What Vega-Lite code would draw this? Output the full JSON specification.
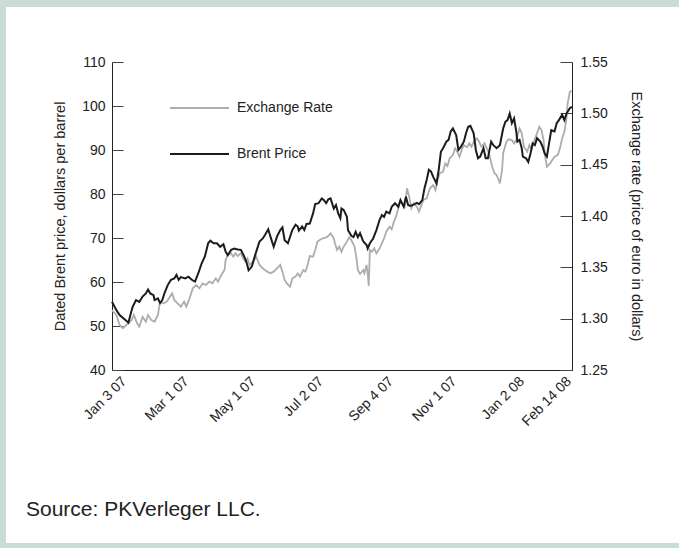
{
  "$schema": "https://vega.github.io/schema/vega-lite/v6.json",
  "width": 673,
  "height": 536,
  "autosize": {"type": "none"},
  "padding": {"left": 6, "top": 7, "right": 0, "bottom": 5},
  "background": "#c9ddd5",
  "title": {"text": "Source: PKVerleger LLC.", "orient": "bottom", "anchor": "start", "frame": "group", "offset": 0, "dx": 20, "dy": -27, "baseline": "alphabetic", "fontSize": 21, "fontWeight": "normal", "font": "Liberation Sans", "color": "#222222"},
  "config": {
    "font": "Liberation Sans",
    "view": {"stroke": null, "fill": "white"},
    "axis": {"grid": false, "domainColor": "#222222", "tickColor": "#444444", "labelColor": "#222222", "titleColor": "#222222", "labelFontSize": 14, "titleFontSize": 14.5, "titleFontWeight": "normal", "labelFont": "Liberation Sans", "titleFont": "Liberation Sans"}
  },
  "datasets": {
    "brent": [
      {"date":"2006-12-23","price":55.5},{"date":"2006-12-27","price":53.6},{"date":"2006-12-30","price":52.5},{"date":"2007-01-04","price":51.4},{"date":"2007-01-07","price":50.75},{"date":"2007-01-10","price":53.6},{"date":"2007-01-11","price":54.4},{"date":"2007-01-14","price":55.9},{"date":"2007-01-17","price":55.5},{"date":"2007-01-20","price":56.7},{"date":"2007-01-23","price":57.4},{"date":"2007-01-25","price":58.3},{"date":"2007-01-27","price":57.4},{"date":"2007-01-30","price":57.0},{"date":"2007-01-31","price":55.9},{"date":"2007-02-03","price":56.3},{"date":"2007-02-05","price":55.2},{"date":"2007-02-07","price":55.9},{"date":"2007-02-09","price":57.4},{"date":"2007-02-12","price":59.3},{"date":"2007-02-15","price":60.5},{"date":"2007-02-18","price":60.8},{"date":"2007-02-20","price":61.6},{"date":"2007-02-22","price":60.5},{"date":"2007-02-24","price":61.1},{"date":"2007-02-28","price":60.8},{"date":"2007-03-03","price":61.2},{"date":"2007-03-06","price":60.5},{"date":"2007-03-09","price":60.1},{"date":"2007-03-12","price":62.0},{"date":"2007-03-15","price":64.2},{"date":"2007-03-18","price":65.8},{"date":"2007-03-21","price":68.8},{"date":"2007-03-23","price":69.4},{"date":"2007-03-26","price":68.8},{"date":"2007-03-29","price":68.8},{"date":"2007-04-01","price":68.0},{"date":"2007-04-04","price":68.6},{"date":"2007-04-06","price":66.9},{"date":"2007-04-08","price":66.1},{"date":"2007-04-11","price":67.3},{"date":"2007-04-14","price":67.6},{"date":"2007-04-17","price":67.4},{"date":"2007-04-20","price":67.3},{"date":"2007-04-23","price":65.8},{"date":"2007-04-25","price":64.6},{"date":"2007-04-27","price":62.7},{"date":"2007-04-30","price":63.5},{"date":"2007-05-03","price":66.1},{"date":"2007-05-07","price":69.2},{"date":"2007-05-10","price":69.9},{"date":"2007-05-12","price":70.7},{"date":"2007-05-15","price":72.0},{"date":"2007-05-17","price":70.3},{"date":"2007-05-20","price":68.0},{"date":"2007-05-23","price":70.3},{"date":"2007-05-26","price":71.8},{"date":"2007-05-28","price":72.4},{"date":"2007-05-30","price":69.5},{"date":"2007-06-02","price":68.8},{"date":"2007-06-06","price":71.8},{"date":"2007-06-09","price":73.0},{"date":"2007-06-11","price":72.6},{"date":"2007-06-12","price":71.7},{"date":"2007-06-15","price":72.6},{"date":"2007-06-17","price":71.8},{"date":"2007-06-19","price":73.2},{"date":"2007-06-22","price":73.3},{"date":"2007-06-25","price":75.6},{"date":"2007-06-27","price":77.7},{"date":"2007-06-30","price":77.9},{"date":"2007-07-03","price":79.0},{"date":"2007-07-05","price":78.6},{"date":"2007-07-07","price":77.9},{"date":"2007-07-09","price":78.8},{"date":"2007-07-11","price":79.0},{"date":"2007-07-14","price":76.7},{"date":"2007-07-16","price":77.5},{"date":"2007-07-18","price":75.6},{"date":"2007-07-20","price":74.5},{"date":"2007-07-21","price":76.7},{"date":"2007-07-23","price":76.4},{"date":"2007-07-26","price":74.8},{"date":"2007-07-27","price":71.8},{"date":"2007-07-30","price":70.5},{"date":"2007-08-01","price":70.2},{"date":"2007-08-03","price":71.4},{"date":"2007-08-05","price":70.2},{"date":"2007-08-07","price":71.1},{"date":"2007-08-10","price":69.2},{"date":"2007-08-13","price":68.4},{"date":"2007-08-14","price":67.6},{"date":"2007-08-16","price":68.8},{"date":"2007-08-19","price":69.9},{"date":"2007-08-22","price":71.8},{"date":"2007-08-25","price":74.2},{"date":"2007-08-27","price":75.2},{"date":"2007-08-29","price":74.8},{"date":"2007-08-31","price":76.0},{"date":"2007-09-03","price":75.6},{"date":"2007-09-05","price":77.1},{"date":"2007-09-08","price":77.9},{"date":"2007-09-11","price":77.1},{"date":"2007-09-13","price":78.6},{"date":"2007-09-16","price":77.1},{"date":"2007-09-18","price":79.4},{"date":"2007-09-20","price":77.5},{"date":"2007-09-22","price":77.3},{"date":"2007-09-25","price":77.6},{"date":"2007-09-28","price":78.0},{"date":"2007-09-30","price":77.7},{"date":"2007-10-03","price":78.6},{"date":"2007-10-05","price":81.3},{"date":"2007-10-07","price":83.2},{"date":"2007-10-09","price":85.5},{"date":"2007-10-11","price":85.1},{"date":"2007-10-13","price":83.9},{"date":"2007-10-16","price":82.4},{"date":"2007-10-18","price":85.5},{"date":"2007-10-20","price":89.6},{"date":"2007-10-22","price":90.4},{"date":"2007-10-25","price":91.9},{"date":"2007-10-27","price":92.3},{"date":"2007-10-29","price":94.2},{"date":"2007-10-31","price":94.9},{"date":"2007-11-03","price":93.4},{"date":"2007-11-05","price":90.0},{"date":"2007-11-07","price":90.6},{"date":"2007-11-10","price":91.9},{"date":"2007-11-12","price":93.8},{"date":"2007-11-14","price":95.3},{"date":"2007-11-16","price":95.5},{"date":"2007-11-19","price":93.8},{"date":"2007-11-21","price":90.0},{"date":"2007-11-23","price":88.1},{"date":"2007-11-25","price":88.5},{"date":"2007-11-28","price":90.4},{"date":"2007-11-30","price":88.1},{"date":"2007-12-02","price":88.1},{"date":"2007-12-05","price":91.9},{"date":"2007-12-07","price":91.1},{"date":"2007-12-10","price":90.4},{"date":"2007-12-13","price":91.1},{"date":"2007-12-16","price":94.9},{"date":"2007-12-18","price":96.4},{"date":"2007-12-20","price":96.8},{"date":"2007-12-22","price":98.3},{"date":"2007-12-24","price":96.1},{"date":"2007-12-26","price":97.2},{"date":"2007-12-28","price":94.2},{"date":"2007-12-29","price":91.9},{"date":"2007-12-31","price":92.3},{"date":"2008-01-02","price":90.4},{"date":"2008-01-03","price":88.5},{"date":"2008-01-06","price":88.1},{"date":"2008-01-08","price":87.3},{"date":"2008-01-10","price":89.2},{"date":"2008-01-12","price":91.5},{"date":"2008-01-14","price":91.1},{"date":"2008-01-16","price":92.7},{"date":"2008-01-19","price":91.9},{"date":"2008-01-21","price":90.8},{"date":"2008-01-23","price":89.2},{"date":"2008-01-25","price":88.5},{"date":"2008-01-27","price":91.5},{"date":"2008-01-29","price":94.5},{"date":"2008-02-01","price":94.2},{"date":"2008-02-03","price":96.1},{"date":"2008-02-05","price":96.8},{"date":"2008-02-08","price":98.0},{"date":"2008-02-10","price":96.8},{"date":"2008-02-12","price":98.3},{"date":"2008-02-14","price":99.1},{"date":"2008-02-15","price":99.5},{"date":"2008-02-17","price":99.8}
    ],
    "fx": [
      {"date":"2006-12-23","rate":1.308},{"date":"2006-12-27","rate":1.3036},{"date":"2006-12-30","rate":1.2938},{"date":"2007-01-02","rate":1.2906},{"date":"2007-01-05","rate":1.2938},{"date":"2007-01-07","rate":1.2955},{"date":"2007-01-10","rate":1.2987},{"date":"2007-01-12","rate":1.3036},{"date":"2007-01-15","rate":1.2955},{"date":"2007-01-17","rate":1.2922},{"date":"2007-01-20","rate":1.3019},{"date":"2007-01-23","rate":1.297},{"date":"2007-01-25","rate":1.3036},{"date":"2007-01-28","rate":1.2987},{"date":"2007-01-31","rate":1.297},{"date":"2007-02-03","rate":1.3036},{"date":"2007-02-05","rate":1.3165},{"date":"2007-02-08","rate":1.315},{"date":"2007-02-11","rate":1.3165},{"date":"2007-02-14","rate":1.3214},{"date":"2007-02-16","rate":1.3247},{"date":"2007-02-18","rate":1.3182},{"date":"2007-02-21","rate":1.315},{"date":"2007-02-24","rate":1.3117},{"date":"2007-02-27","rate":1.3165},{"date":"2007-03-01","rate":1.3117},{"date":"2007-03-04","rate":1.3198},{"date":"2007-03-07","rate":1.3296},{"date":"2007-03-10","rate":1.3328},{"date":"2007-03-13","rate":1.3296},{"date":"2007-03-16","rate":1.3344},{"date":"2007-03-19","rate":1.3328},{"date":"2007-03-22","rate":1.336},{"date":"2007-03-25","rate":1.3344},{"date":"2007-03-28","rate":1.3393},{"date":"2007-03-30","rate":1.336},{"date":"2007-04-02","rate":1.3425},{"date":"2007-04-05","rate":1.3474},{"date":"2007-04-06","rate":1.3571},{"date":"2007-04-08","rate":1.362},{"date":"2007-04-11","rate":1.3637},{"date":"2007-04-13","rate":1.3604},{"date":"2007-04-15","rate":1.3637},{"date":"2007-04-17","rate":1.361},{"date":"2007-04-20","rate":1.3637},{"date":"2007-04-22","rate":1.3588},{"date":"2007-04-24","rate":1.3555},{"date":"2007-04-26","rate":1.3588},{"date":"2007-04-28","rate":1.3523},{"date":"2007-05-01","rate":1.3555},{"date":"2007-05-04","rate":1.3604},{"date":"2007-05-07","rate":1.3523},{"date":"2007-05-10","rate":1.3491},{"date":"2007-05-14","rate":1.3458},{"date":"2007-05-17","rate":1.3442},{"date":"2007-05-20","rate":1.3458},{"date":"2007-05-23","rate":1.3491},{"date":"2007-05-26","rate":1.3523},{"date":"2007-05-28","rate":1.3458},{"date":"2007-05-30","rate":1.3377},{"date":"2007-06-01","rate":1.3344},{"date":"2007-06-04","rate":1.3311},{"date":"2007-06-06","rate":1.3393},{"date":"2007-06-09","rate":1.3409},{"date":"2007-06-11","rate":1.3442},{"date":"2007-06-13","rate":1.3409},{"date":"2007-06-16","rate":1.3474},{"date":"2007-06-18","rate":1.3458},{"date":"2007-06-20","rate":1.3523},{"date":"2007-06-22","rate":1.361},{"date":"2007-06-25","rate":1.3604},{"date":"2007-06-27","rate":1.3669},{"date":"2007-06-29","rate":1.375},{"date":"2007-07-01","rate":1.3766},{"date":"2007-07-04","rate":1.3783},{"date":"2007-07-07","rate":1.3792},{"date":"2007-07-09","rate":1.3805},{"date":"2007-07-11","rate":1.3831},{"date":"2007-07-14","rate":1.3783},{"date":"2007-07-15","rate":1.3734},{"date":"2007-07-17","rate":1.3669},{"date":"2007-07-19","rate":1.3701},{"date":"2007-07-21","rate":1.3652},{"date":"2007-07-23","rate":1.3701},{"date":"2007-07-26","rate":1.375},{"date":"2007-07-28","rate":1.3792},{"date":"2007-07-30","rate":1.3766},{"date":"2007-08-02","rate":1.3701},{"date":"2007-08-04","rate":1.3571},{"date":"2007-08-05","rate":1.3474},{"date":"2007-08-07","rate":1.3435},{"date":"2007-08-10","rate":1.3474},{"date":"2007-08-11","rate":1.3442},{"date":"2007-08-13","rate":1.3523},{"date":"2007-08-14","rate":1.3442},{"date":"2007-08-15","rate":1.332},{"date":"2007-08-16","rate":1.3669},{"date":"2007-08-18","rate":1.3652},{"date":"2007-08-20","rate":1.3685},{"date":"2007-08-22","rate":1.3637},{"date":"2007-08-25","rate":1.3685},{"date":"2007-08-27","rate":1.3734},{"date":"2007-08-29","rate":1.3783},{"date":"2007-08-31","rate":1.3847},{"date":"2007-09-03","rate":1.3896},{"date":"2007-09-05","rate":1.387},{"date":"2007-09-07","rate":1.3945},{"date":"2007-09-09","rate":1.3993},{"date":"2007-09-11","rate":1.4075},{"date":"2007-09-13","rate":1.4156},{"date":"2007-09-15","rate":1.4107},{"date":"2007-09-17","rate":1.4091},{"date":"2007-09-19","rate":1.427},{"date":"2007-09-21","rate":1.4188},{"date":"2007-09-23","rate":1.4075},{"date":"2007-09-25","rate":1.4124},{"date":"2007-09-28","rate":1.4091},{"date":"2007-09-30","rate":1.4042},{"date":"2007-10-04","rate":1.4156},{"date":"2007-10-07","rate":1.4172},{"date":"2007-10-10","rate":1.427},{"date":"2007-10-13","rate":1.4302},{"date":"2007-10-15","rate":1.4253},{"date":"2007-10-17","rate":1.4351},{"date":"2007-10-19","rate":1.4416},{"date":"2007-10-22","rate":1.4432},{"date":"2007-10-24","rate":1.4513},{"date":"2007-10-26","rate":1.4487},{"date":"2007-10-28","rate":1.4562},{"date":"2007-10-31","rate":1.4594},{"date":"2007-11-02","rate":1.4659},{"date":"2007-11-04","rate":1.4626},{"date":"2007-11-06","rate":1.4578},{"date":"2007-11-08","rate":1.4643},{"date":"2007-11-10","rate":1.4691},{"date":"2007-11-13","rate":1.4669},{"date":"2007-11-15","rate":1.4708},{"date":"2007-11-17","rate":1.4675},{"date":"2007-11-19","rate":1.4724},{"date":"2007-11-22","rate":1.4757},{"date":"2007-11-24","rate":1.4724},{"date":"2007-11-26","rate":1.4675},{"date":"2007-11-29","rate":1.4708},{"date":"2007-12-01","rate":1.4659},{"date":"2007-12-03","rate":1.4611},{"date":"2007-12-06","rate":1.448},{"date":"2007-12-08","rate":1.4416},{"date":"2007-12-10","rate":1.4399},{"date":"2007-12-12","rate":1.4351},{"date":"2007-12-13","rate":1.4318},{"date":"2007-12-15","rate":1.4448},{"date":"2007-12-16","rate":1.4611},{"date":"2007-12-19","rate":1.4724},{"date":"2007-12-21","rate":1.4747},{"date":"2007-12-24","rate":1.474},{"date":"2007-12-26","rate":1.4708},{"date":"2007-12-28","rate":1.474},{"date":"2007-12-31","rate":1.4854},{"date":"2008-01-02","rate":1.4805},{"date":"2008-01-04","rate":1.4675},{"date":"2008-01-07","rate":1.4626},{"date":"2008-01-09","rate":1.4691},{"date":"2008-01-11","rate":1.465},{"date":"2008-01-13","rate":1.4724},{"date":"2008-01-16","rate":1.4805},{"date":"2008-01-18","rate":1.487},{"date":"2008-01-20","rate":1.4838},{"date":"2008-01-22","rate":1.474},{"date":"2008-01-23","rate":1.4611},{"date":"2008-01-25","rate":1.448},{"date":"2008-01-28","rate":1.4513},{"date":"2008-01-30","rate":1.4545},{"date":"2008-02-01","rate":1.4578},{"date":"2008-02-04","rate":1.4594},{"date":"2008-02-06","rate":1.4659},{"date":"2008-02-08","rate":1.4757},{"date":"2008-02-10","rate":1.4821},{"date":"2008-02-12","rate":1.4951},{"date":"2008-02-13","rate":1.5098},{"date":"2008-02-15","rate":1.521},{"date":"2008-02-17","rate":1.522}
    ]
  },
  "layer": [
    {
      "data": {"name": "fx"},
      "mark": {"type": "line", "strokeWidth": 1.8},
      "encoding": {
        "x": {
          "field": "date", "type": "temporal",
          "scale": {"type": "utc", "domain": [{"year": 2006, "month": 12, "date": 23, "utc": true}, {"year": 2008, "month": 2, "date": 17, "utc": true}], "range": [106, 566]},
          "axis": {
            "title": null, "ticks": false, "offset": -173, "labelAngle": -45, "labelPadding": 4, "labelOffset": -5,
            "labelOverlap": false, "labelFlush": false, "labelBound": false,
            "labelExpr": "utcFormat(datum.value, '%b %-d %y')",
            "values": [
              {"year": 2007, "month": 1, "date": 3, "utc": true},
              {"year": 2007, "month": 3, "date": 1, "utc": true},
              {"year": 2007, "month": 5, "date": 1, "utc": true},
              {"year": 2007, "month": 7, "date": 2, "utc": true},
              {"year": 2007, "month": 9, "date": 4, "utc": true},
              {"year": 2007, "month": 11, "date": 1, "utc": true},
              {"year": 2008, "month": 1, "date": 2, "utc": true},
              {"year": 2008, "month": 2, "date": 14, "utc": true}
            ]
          }
        },
        "y": {
          "field": "rate", "type": "quantitative",
          "scale": {"domain": [1.25, 1.55], "range": [363, 55], "nice": false, "zero": false},
          "axis": {"orient": "right", "values": [1.25, 1.3, 1.35, 1.4, 1.45, 1.5, 1.55], "format": ".2f", "tickSize": -12, "labelPadding": 20, "offset": -107, "title": "Exchange rate (price of euro in dollars)", "titlePadding": 21}
        },
        "color": {
          "datum": "Exchange Rate", "type": "nominal",
          "scale": {"domain": ["Exchange Rate", "Brent Price"], "range": ["#adadad", "#1c1c1c"]},
          "legend": {"orient": "none", "legendX": 163, "legendY": 93, "title": null, "padding": 0, "symbolType": "stroke", "symbolSize": 3481, "symbolStrokeWidth": 2, "clipHeight": 16, "rowPadding": 30, "labelOffset": 7, "labelFontSize": 14, "labelColor": "#222222", "labelFont": "Liberation Sans"}
        }
      }
    },
    {
      "data": {"name": "brent"},
      "mark": {"type": "line", "strokeWidth": 2},
      "encoding": {
        "x": {"field": "date", "type": "temporal"},
        "y": {
          "field": "price", "type": "quantitative",
          "scale": {"domain": [40, 110], "range": [363, 55], "nice": false, "zero": false},
          "axis": {"orient": "left", "values": [40, 50, 60, 70, 80, 90, 100, 110], "tickSize": -11, "labelPadding": 18, "offset": -106, "title": "Dated Brent price, dollars per barrel", "titlePadding": 14}
        },
        "color": {"datum": "Brent Price", "type": "nominal"}
      }
    }
  ],
  "resolve": {"scale": {"y": "independent"}}
}
